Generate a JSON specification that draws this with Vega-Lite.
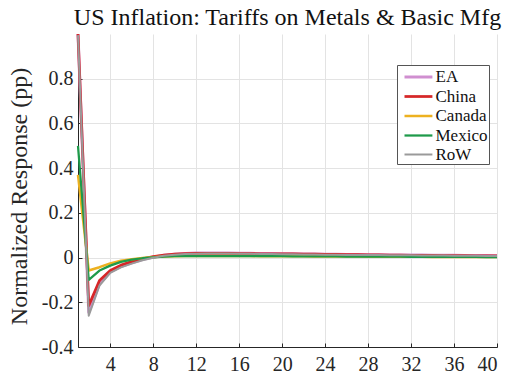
{
  "$schema": "https://vega.github.io/schema/vega-lite/v6.json",
  "width": 419,
  "height": 313,
  "autosize": {"type": "none"},
  "padding": {"left": 78, "top": 34, "right": 20, "bottom": 26},
  "background": "white",
  "title": {
    "text": "US Inflation: Tariffs on Metals & Basic Mfg",
    "font": "Liberation Serif, serif",
    "fontSize": 24,
    "fontWeight": "normal",
    "color": "#111111",
    "anchor": "middle",
    "offset": 3
  },
  "data": {
    "values": [
      {"t": 1, "EA": 1.0, "China": 1.0, "Canada": 0.37, "Mexico": 0.5, "RoW": 0.995},
      {"t": 2, "EA": -0.245, "China": -0.215, "Canada": -0.058, "Mexico": -0.1, "RoW": -0.26},
      {"t": 3, "EA": -0.118, "China": -0.103, "Canada": -0.043, "Mexico": -0.058, "RoW": -0.125},
      {"t": 4, "EA": -0.064, "China": -0.058, "Canada": -0.026, "Mexico": -0.036, "RoW": -0.068},
      {"t": 5, "EA": -0.04, "China": -0.034, "Canada": -0.014, "Mexico": -0.019, "RoW": -0.044},
      {"t": 6, "EA": -0.023, "China": -0.018, "Canada": -0.007, "Mexico": -0.009, "RoW": -0.027},
      {"t": 7, "EA": -0.009, "China": -0.006, "Canada": -0.002, "Mexico": -0.003, "RoW": -0.012},
      {"t": 8, "EA": 0.002, "China": 0.004, "Canada": 0.002, "Mexico": 0.001, "RoW": -0.001},
      {"t": 9, "EA": 0.01, "China": 0.011, "Canada": 0.005, "Mexico": 0.004, "RoW": 0.008},
      {"t": 10, "EA": 0.015, "China": 0.015, "Canada": 0.006, "Mexico": 0.006, "RoW": 0.013},
      {"t": 11, "EA": 0.018, "China": 0.018, "Canada": 0.007, "Mexico": 0.007, "RoW": 0.016},
      {"t": 12, "EA": 0.02, "China": 0.019, "Canada": 0.007, "Mexico": 0.007, "RoW": 0.017},
      {"t": 13, "EA": 0.02, "China": 0.019, "Canada": 0.007, "Mexico": 0.007, "RoW": 0.018},
      {"t": 14, "EA": 0.02, "China": 0.019, "Canada": 0.007, "Mexico": 0.007, "RoW": 0.018},
      {"t": 15, "EA": 0.02, "China": 0.019, "Canada": 0.007, "Mexico": 0.007, "RoW": 0.018},
      {"t": 16, "EA": 0.019, "China": 0.018, "Canada": 0.007, "Mexico": 0.007, "RoW": 0.017},
      {"t": 17, "EA": 0.019, "China": 0.018, "Canada": 0.007, "Mexico": 0.006, "RoW": 0.017},
      {"t": 18, "EA": 0.018, "China": 0.017, "Canada": 0.006, "Mexico": 0.006, "RoW": 0.016},
      {"t": 19, "EA": 0.018, "China": 0.017, "Canada": 0.006, "Mexico": 0.006, "RoW": 0.016},
      {"t": 20, "EA": 0.017, "China": 0.016, "Canada": 0.006, "Mexico": 0.006, "RoW": 0.015},
      {"t": 21, "EA": 0.017, "China": 0.016, "Canada": 0.006, "Mexico": 0.005, "RoW": 0.015},
      {"t": 22, "EA": 0.016, "China": 0.015, "Canada": 0.006, "Mexico": 0.005, "RoW": 0.014},
      {"t": 23, "EA": 0.016, "China": 0.015, "Canada": 0.005, "Mexico": 0.005, "RoW": 0.014},
      {"t": 24, "EA": 0.015, "China": 0.014, "Canada": 0.005, "Mexico": 0.005, "RoW": 0.013},
      {"t": 25, "EA": 0.015, "China": 0.014, "Canada": 0.005, "Mexico": 0.005, "RoW": 0.013},
      {"t": 26, "EA": 0.014, "China": 0.013, "Canada": 0.005, "Mexico": 0.004, "RoW": 0.012},
      {"t": 27, "EA": 0.014, "China": 0.013, "Canada": 0.005, "Mexico": 0.004, "RoW": 0.012},
      {"t": 28, "EA": 0.013, "China": 0.012, "Canada": 0.004, "Mexico": 0.004, "RoW": 0.011},
      {"t": 29, "EA": 0.013, "China": 0.012, "Canada": 0.004, "Mexico": 0.004, "RoW": 0.011},
      {"t": 30, "EA": 0.012, "China": 0.011, "Canada": 0.004, "Mexico": 0.004, "RoW": 0.01},
      {"t": 31, "EA": 0.012, "China": 0.011, "Canada": 0.004, "Mexico": 0.004, "RoW": 0.01},
      {"t": 32, "EA": 0.011, "China": 0.01, "Canada": 0.004, "Mexico": 0.003, "RoW": 0.01},
      {"t": 33, "EA": 0.011, "China": 0.01, "Canada": 0.004, "Mexico": 0.003, "RoW": 0.009},
      {"t": 34, "EA": 0.01, "China": 0.01, "Canada": 0.003, "Mexico": 0.003, "RoW": 0.009},
      {"t": 35, "EA": 0.01, "China": 0.009, "Canada": 0.003, "Mexico": 0.003, "RoW": 0.009},
      {"t": 36, "EA": 0.01, "China": 0.009, "Canada": 0.003, "Mexico": 0.003, "RoW": 0.008},
      {"t": 37, "EA": 0.009, "China": 0.009, "Canada": 0.003, "Mexico": 0.003, "RoW": 0.008},
      {"t": 38, "EA": 0.009, "China": 0.008, "Canada": 0.003, "Mexico": 0.003, "RoW": 0.008},
      {"t": 39, "EA": 0.009, "China": 0.008, "Canada": 0.003, "Mexico": 0.002, "RoW": 0.007},
      {"t": 40, "EA": 0.008, "China": 0.008, "Canada": 0.003, "Mexico": 0.002, "RoW": 0.007}
    ]
  },
  "transform": [
    {"fold": ["EA", "China", "Canada", "Mexico", "RoW"], "as": ["series", "value"]}
  ],
  "mark": {"type": "line", "clip": false, "strokeJoin": "round", "strokeCap": "butt"},
  "encoding": {
    "x": {
      "field": "t",
      "type": "quantitative",
      "scale": {"domain": [1, 40], "nice": false, "zero": false},
      "axis": {
        "title": null,
        "values": [4, 8, 12, 16, 20, 24, 28, 32, 36, 40],
        "labelFont": "Liberation Serif, serif",
        "labelFontSize": 20,
        "labelPadding": 11
      }
    },
    "y": {
      "field": "value",
      "type": "quantitative",
      "scale": {"domain": [-0.4, 1.0], "nice": false, "zero": false},
      "axis": {
        "title": "Normalized Response (pp)",
        "values": [-0.4, -0.2, 0, 0.2, 0.4, 0.6, 0.8],
        "labelExpr": "datum.value == 0 ? '0' : (datum.value < 0 ? '-' + format(-datum.value, '.1f') : format(datum.value, '.1f'))",
        "labelFont": "Liberation Serif, serif",
        "labelFontSize": 20,
        "titleFont": "Liberation Serif, serif",
        "titleFontSize": 24,
        "titleFontWeight": "normal",
        "titlePadding": 10,
        "titleY": 162,
        "labelPadding": 9
      }
    },
    "color": {
      "field": "series",
      "type": "nominal",
      "sort": ["EA", "China", "Canada", "Mexico", "RoW"],
      "scale": {
        "domain": ["EA", "China", "Canada", "Mexico", "RoW"],
        "range": ["#D08FD0", "#D62728", "#EDB120", "#1E9A4A", "#9A9A9A"]
      },
      "legend": {"title": null}
    },
    "strokeWidth": {
      "field": "series",
      "type": "nominal",
      "scale": {
        "domain": ["EA", "China", "Canada", "Mexico", "RoW"],
        "range": [3, 2, 3, 3, 3.6]
      },
      "legend": null
    }
  },
  "config": {
    "view": {"stroke": null},
    "font": "Liberation Serif, serif",
    "axis": {
      "labelColor": "#262626",
      "titleColor": "#262626",
      "domainColor": "#262626",
      "domainWidth": 1,
      "tickColor": "#262626",
      "tickSize": -4,
      "gridColor": "#E3E3E3",
      "gridWidth": 1
    },
    "legend": {
      "orient": "none",
      "legendX": 319,
      "legendY": 31,
      "padding": 1.5,
      "strokeColor": "#555555",
      "fillColor": "white",
      "labelFont": "Liberation Serif, serif",
      "labelFontSize": 17,
      "labelColor": "#111111",
      "labelOffset": 16,
      "symbolType": "M-0.5,0H2.6",
      "symbolSize": 324,
      "symbolStrokeWidth": 2.6,
      "rowPadding": 0.5
    }
  }
}
